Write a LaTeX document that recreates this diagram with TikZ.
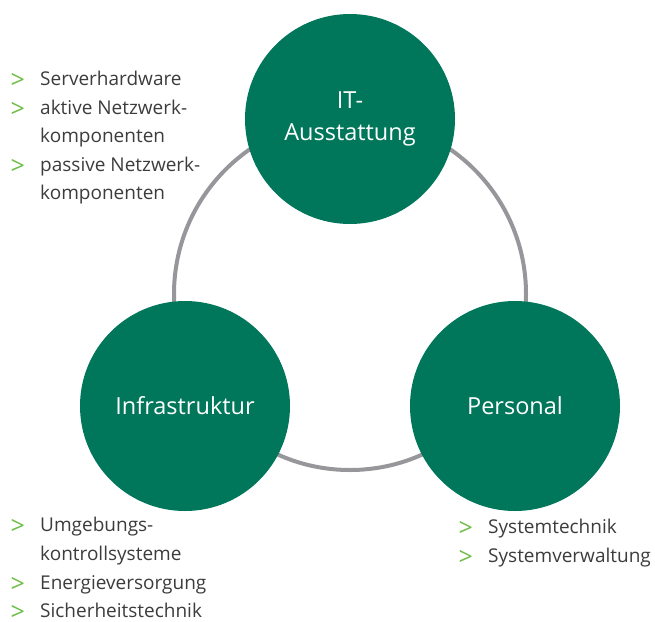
\documentclass[tikz,border=0pt]{standalone}
\usepackage{fontspec}
\setmainfont{Open Sans}
\usetikzlibrary{positioning}

\definecolor{fhgreen}{RGB}{0,118,90}
\definecolor{bulletgreen}{RGB}{110,190,70}
\definecolor{ringgray}{RGB}{150,150,155}
\definecolor{txtgray}{RGB}{60,60,60}

\begin{document}
\begin{tikzpicture}[
        x=1pt,
        y=1pt,
        yscale=-1,
        pillar/.style={circle, fill=fhgreen, text=white, minimum size=210pt, inner sep=0pt,
            align=center, font=\fontsize{23.5}{32}\selectfont},
        ring/.style={draw=ringgray, line width=4pt},
        bullet/.style={anchor=north east, inner sep=0pt, xshift=-15pt, yshift=-3pt, text=bulletgreen,
            font=\fontsize{25}{28.5}\selectfont},
        item/.style={anchor=north west, inner sep=0pt, align=left, text=txtgray,
            font=\fontsize{19}{28.5}\selectfont, label={[bullet]north west:\strut>}}
    ]
    \useasboundingbox (0,0) rectangle (655,621);

    % ring behind the three circles
    \coordinate (hub) at (350,294);
    \draw[ring] (hub) circle (176);

    \node[pillar] (it) at (350,119) {IT-\\Ausstattung};
    \node[pillar] (infra) at (185,406) {Infrastruktur};
    \node[pillar] (pers) at (515,406) {Personal};

    % IT-Ausstattung
    \node[item] (srv) at (40,65) {\strut Serverhardware\strut};
    \node[item, below=0pt of srv.south west, anchor=north west] (aktiv) {\strut aktive Netzwerk-\\komponenten\strut};
    \node[item, below=0pt of aktiv.south west, anchor=north west] (passiv) {\strut passive Netzwerk-\\komponenten};

    % Infrastruktur
    \node[item] (umg) at (40,511.5) {\strut Umgebungs-\\kontrollsysteme\strut};
    \node[item, below=0pt of umg.south west, anchor=north west] (energie) {\strut Energieversorgung\strut};
    \node[item, below=0pt of energie.south west, anchor=north west] (sicher) {\strut Sicherheitstechnik};

    % Personal
    \node[item] (systech) at (488,513.5) {\strut Systemtechnik\strut};
    \node[item, below=0pt of systech.south west, anchor=north west] (sysverw) {\strut Systemverwaltung};
\end{tikzpicture}
\end{document}
